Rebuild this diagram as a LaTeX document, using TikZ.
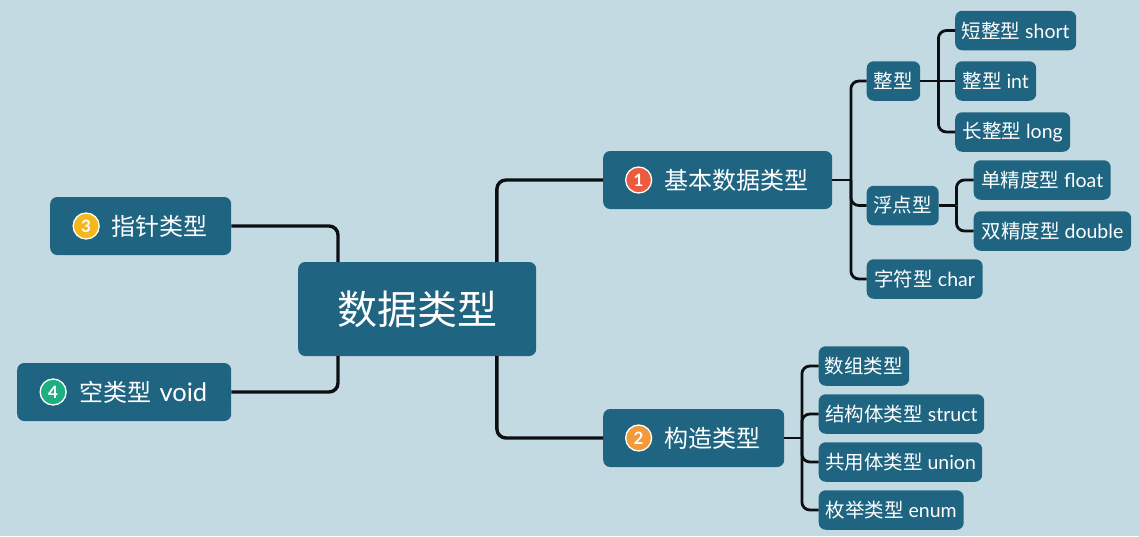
\documentclass[tikz,border=0pt]{standalone}
\usepackage{fontspec}
\usepackage{xcolor}
\setmainfont{Lato}
\newfontfamily\cjk{Noto Sans CJK SC}
\definecolor{dtPaper}{HTML}{C3DAE3}
\definecolor{dtBox}{HTML}{1F6480}
\definecolor{dtInk}{HTML}{0C0F12}
\definecolor{dtRed}{HTML}{EE5A3E}
\definecolor{dtOrange}{HTML}{F59A3A}
\definecolor{dtYellow}{HTML}{F5B81C}
\definecolor{dtGreen}{HTML}{1FAE82}
\usetikzlibrary{calc,positioning}
\tikzset{
  boxbase/.style={fill=dtBox, text=white, rounded corners=7pt, inner ysep=0pt, anchor=west},
  rootbox/.style={boxbase, minimum width=238pt, minimum height=94pt, font=\fontsize{40}{48}\selectfont},
  topicbox/.style={boxbase, minimum height=58pt, inner xsep=24pt, align=right, font=\fontsize{24}{29}\selectfont},
  leafbox/.style={boxbase, minimum height=39.5pt, inner xsep=0pt, font=\fontsize{19.5}{23}\selectfont},
  badge/.style={circle, draw=white, line width=1.3pt, minimum size=26pt, inner sep=0pt, text=white, font=\fontsize{17}{20}\bfseries\selectfont},
  mainlink/.style={dtInk, line width=3.4pt, rounded corners=9pt},
  leaflink/.style={dtInk, line width=2.8pt, rounded corners=8pt}
}

\begin{document}
\begin{tikzpicture}[x=1pt, y=-1pt]
    \fill[dtPaper] (0,0) rectangle (1139,536);
    \useasboundingbox (0,0) rectangle (1139,536);

    \node[rootbox] (dataType) at (298,309) {\cjk 数据类型};
    \node[topicbox, text width=133pt] (pointerType) at (50,226) {{\cjk 指针类型}};
    \node[topicbox, text width=166pt] (voidType) at (17,392) {{\cjk 空类型} {\fontsize{25.5}{29}\selectfont void}};
    \node[topicbox, text width=181pt] (basicType) at (603,180) {{\cjk 基本数据类型}};
    \node[topicbox, text width=133pt] (builtType) at (603,438) {{\cjk 构造类型}};

    \node[leafbox, minimum width=53.5pt] (intType) at (866.5,81) {\cjk 整型};
    \node[leafbox, minimum width=72pt] (floatType) at (866.5,205.5) {\cjk 浮点型};
    \node[leafbox, minimum width=116pt] (charType) at (866.5,279) {{\cjk 字符型} char};
    \node[leafbox, minimum width=121pt] (shortLeaf) at (955,30.5) {{\cjk 短整型} short};
    \node[leafbox, minimum width=81pt] (intLeaf) at (955,81) {{\cjk 整型} int};
    \node[leafbox, minimum width=115pt] (longLeaf) at (955,132) {{\cjk 长整型} long};
    \node[leafbox, minimum width=137pt] (singleLeaf) at (973.5,180) {{\cjk 单精度型} float};
    \node[leafbox, minimum width=157.5pt] (doubleLeaf) at (973.5,231) {{\cjk 双精度型} double};
    \node[leafbox, minimum width=90.5pt] (arrayLeaf) at (818.5,366) {\cjk 数组类型};
    \node[leafbox, minimum width=165.5pt] (structLeaf) at (818.5,414) {{\cjk 结构体类型} struct};
    \node[leafbox, minimum width=163.5pt] (unionLeaf) at (818.5,462) {{\cjk 共用体类型} union};
    \node[leafbox, minimum width=145pt] (enumLeaf) at (818.5,510) {{\cjk 枚举类型} enum};

    \node[badge, fill=dtRed, right=22pt of basicType.west] (badgeOne) {1};
    \node[badge, fill=dtOrange, right=22pt of builtType.west] (badgeTwo) {2};
    \node[badge, fill=dtYellow, right=22.5pt of pointerType.west] (badgeThree) {3};
    \node[badge, fill=dtGreen, right=22.5pt of voidType.west] (badgeFour) {4};

    \coordinate (rootLeftTop) at ($(dataType.north west)+(40,0)$);
    \coordinate (rootLeftBottom) at ($(dataType.south west)+(40,0)$);
    \coordinate (rootRightTop) at ($(dataType.north east)+(-39.5,0)$);
    \coordinate (rootRightBottom) at ($(dataType.south east)+(-39.5,0)$);
    \draw[mainlink] (pointerType.east) -| (rootLeftTop);
    \draw[mainlink] (voidType.east) -| (rootLeftBottom);
    \draw[mainlink] (rootRightTop) |- (basicType.west);
    \draw[mainlink] (rootRightBottom) |- (builtType.west);

    \coordinate (basicFork) at ($(basicType.east)+(18.5,0)$);
    \draw[leaflink] (basicType.east) -- (basicFork);
    \foreach \leaf in {intType,floatType,charType}
      \draw[leaflink] (basicFork) |- (\leaf.west);

    \coordinate (intFork) at ($(intType.east)+(18,0)$);
    \draw[leaflink] (intType.east) -- (intLeaf.west);
    \foreach \leaf in {shortLeaf,longLeaf}
      \draw[leaflink] (intFork) |- (\leaf.west);

    \coordinate (floatFork) at ($(floatType.east)+(17.5,0)$);
    \draw[leaflink] (floatType.east) -- (floatFork);
    \foreach \leaf in {singleLeaf,doubleLeaf}
      \draw[leaflink] (floatFork) |- (\leaf.west);

    \coordinate (builtFork) at ($(builtType.east)+(17.5,0)$);
    \draw[leaflink] (builtType.east) -- (builtFork);
    \foreach \leaf in {arrayLeaf,structLeaf,unionLeaf,enumLeaf}
      \draw[leaflink] (builtFork) |- (\leaf.west);
  \end{tikzpicture}
\end{document}
